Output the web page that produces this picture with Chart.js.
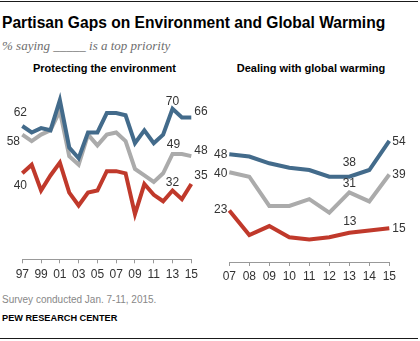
<!DOCTYPE html>
<html>
<head>
<meta charset="utf-8">
<script src="https://cdn.jsdelivr.net/npm/chart.js@4.4.1/dist/chart.umd.min.js"></script>
<style>
  body { margin: 0; background: #fff; }
  #wrap { position: relative; width: 420px; height: 341px; overflow: hidden; font-family: "Liberation Sans", Arial, sans-serif; }
  .rule { position: absolute; left: 0; width: 418px; height: 1px; background: #1a1a1a; }
  .txt { position: absolute; white-space: nowrap; line-height: 1; }
  #title { left: 2px; top: 15.1px; font-size: 15.6px; font-weight: bold; color: #000; }
  #sub { left: 2px; top: 39.1px; font-family: "Liberation Serif", serif; font-style: italic; font-size: 13px; color: #6e6e6e; }
  .panel { font-size: 11px; font-weight: bold; color: #000; transform: translateX(-50%); top: 63.4px; }
  #note { left: 2px; top: 294.8px; font-size: 10px; color: #888; }
  #pew { left: 2px; top: 313.9px; font-size: 9.2px; font-weight: bold; color: #000; }
  canvas { position: absolute; top: 0; }
</style>
</head>
<body>
<div id="wrap">
  <div class="rule" style="top:1px"></div>
  <div class="txt" id="title">Partisan Gaps on Environment and Global Warming</div>
  <div class="txt" id="sub">% saying _____ is a top priority</div>
  <div class="txt panel" style="left:104.5px">Protecting the environment</div>
  <div class="txt panel" style="left:311px">Dealing with global warming</div>
  <canvas id="envChart" width="210" height="280" style="left:0"></canvas>
  <canvas id="gwChart" width="210" height="280" style="left:210px"></canvas>
  <div class="txt" id="note">Survey conducted Jan. 7-11, 2015.</div>
  <div class="txt" id="pew">PEW RESEARCH CENTER</div>
  <div class="rule" style="top:338px"></div>
</div>
<script>
// protecting the environment, 1997-2015
const envYears = ['97', '98', '99', '00', '01', '02', '03', '04', '05', '06', '07', '08', '09', '10', '11', '12', '13', '14', '15'];
const envDem = [62, 59, 61, 60, 74, 52, 47, 59, 59, 68, 68, 67, 54, 60, 54, 58, 70, 66, 66];
const envInd = [58, 55, 58, 60, 69, 48, 44, 58, 53, 58, 59, 55, 42, 39, 36, 40, 49, 49, 48];
const envRep = [40, 44, 32, 39, 45, 31, 25, 31, 32, 41, 41, 40, 21, 35, 30, 27, 32, 28, 35];

// dealing with global warming, 2007-2015
const gwYears = ['07', '08', '09', '10', '11', '12', '13', '14', '15'];
const gwDem = [48, 47, 44, 42, 41, 38, 38, 41, 54];
const gwInd = [40, 38, 25, 25, 28, 22, 31, 27, 39];
const gwRep = [23, 12, 16, 11, 10, 11, 13, 14, 15];

const BLUE = '#436b8b';
const GRAY = '#ababab';
const RED = '#c0392b';

// value labels: [dataset, point, dx, dy, align]
const envNotes = [
  [0, 0, -2, -13, 'center'], [1, 0, -9, 7.5, 'center'], [2, 0, -2, 12, 'center'],
  [0, 16, 0, -7, 'center'], [1, 16, 1, -9, 'center'], [2, 16, 0, -7.5, 'center'],
  [0, 18, 3, -5.5, 'left'], [1, 18, 3, -5, 'left'], [2, 18, 3, -8, 'left']
];
const gwNotes = [
  [0, 0, -2, 0.5, 'right'], [1, 0, -2, 1.5, 'right'], [2, 0, -2, -1, 'right'],
  [0, 6, 0, -14.5, 'center'], [1, 6, 0, -8.5, 'center'], [2, 6, 0.5, -11, 'center'],
  [0, 8, 3, 1, 'left'], [1, 8, 3, 0, 'left'], [2, 8, 3, 0.5, 'left']
];

const valueLabels = {
  id: 'valueLabels',
  afterDatasetsDraw(chart, args, opts) {
    const ctx = chart.ctx;
    ctx.save();
    ctx.font = '12px "Liberation Sans", Arial, sans-serif';
    ctx.fillStyle = '#333';
    ctx.textBaseline = 'middle';
    opts.notes.forEach(([ds, i, dx, dy, align]) => {
      const pt = chart.getDatasetMeta(ds).data[i];
      const v = chart.data.datasets[ds].data[i];
      ctx.textAlign = align;
      ctx.fillText(String(v), pt.x + dx, pt.y + dy);
    });
    ctx.restore();
  }
};

function makeChart(id, labels, dem, ind, rep, cfg) {
  const line = (data, color) => ({
    data, borderColor: color, borderWidth: 4, pointRadius: 0, tension: 0, clip: false, fill: false
  });
  return new Chart(document.getElementById(id), {
    type: 'line',
    data: {
      labels,
      datasets: [line(dem, BLUE), line(ind, GRAY), line(rep, RED)]
    },
    options: {
      responsive: false,
      animation: false,
      devicePixelRatio: 1,
      layout: { padding: cfg.padding },
      plugins: {
        legend: { display: false },
        tooltip: { enabled: false },
        valueLabels: { notes: cfg.notes }
      },
      scales: {
        x: {
          offset: false,
          border: { display: true, color: '#999', width: 1 },
          grid: { drawOnChartArea: false, drawTicks: true, tickLength: 4, color: '#999' },
          ticks: {
            autoSkip: false, maxRotation: 0, padding: cfg.tickPad, color: '#333',
            font: { family: '"Liberation Sans", Arial, sans-serif', size: 12 },
            callback: (val, i) => (i % cfg.step === 0 ? labels[i] : null)
          },
          afterFit: (axis) => { axis.height = cfg.axisHeight; }
        },
        y: { display: false, min: 0, max: 80 }
      }
    },
    plugins: [valueLabels]
  });
}

makeChart('envChart', envYears, envDem, envInd, envRep, {
  padding: { left: 22.3, right: 18.7, top: 87.3, bottom: 0 },
  axisHeight: 20.7, step: 2, tickPad: 4, notes: envNotes
});
makeChart('gwChart', gwYears, gwDem, gwInd, gwRep, {
  padding: { left: 19.3, right: 30.7, top: 82.5, bottom: 0 },
  axisHeight: 18, step: 1, tickPad: 3, notes: gwNotes
});
</script>
</body>
</html>
